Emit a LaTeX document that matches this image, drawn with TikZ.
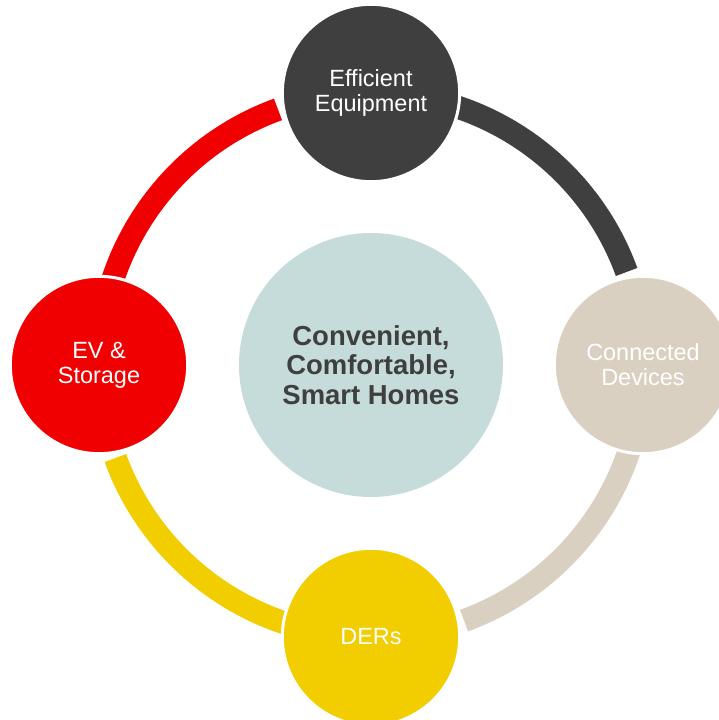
\documentclass[tikz,border=0pt]{standalone}
\usepackage{fontspec}
\setmainfont{Liberation Sans}
\definecolor{equipgrey}{HTML}{3F3F3F}
\definecolor{devbeige}{HTML}{D9D0C1}
\definecolor{deryellow}{HTML}{F2CD00}
\definecolor{evred}{HTML}{F00000}
\definecolor{homeblue}{HTML}{C6DCDB}
\tikzset{
  ring/.style={line width=17.25pt},
  bubble/.style={circle, draw=white, line width=2.25pt, minimum size=133pt, inner sep=0pt,
    align=center, text=white, font=\fontsize{17.6}{18.75}\selectfont},
  hub/.style={circle, fill=homeblue, minimum size=198pt, inner sep=0pt, align=center,
    text=equipgrey, font=\bfseries\fontsize{20.6}{22}\selectfont}
}
\begin{document}
\begin{tikzpicture}
        \useasboundingbox (-278.25pt,-266.25pt) rectangle (260.25pt,273.75pt);
        % Define centre
        \coordinate (O) at (0,0);

        % Draw ring segments
        \draw[ring, equipgrey] ([shift={(90:204pt)}]O) arc (90:20:204pt);
        \draw[ring, devbeige] ([shift={(0:204pt)}]O) arc (0:-70:204pt);
        \draw[ring, deryellow] ([shift={(-90:204pt)}]O) arc (-90:-160:204pt);
        \draw[ring, evred] ([shift={(180:204pt)}]O) arc (180:110:204pt);

        % Draw circles
        \node[hub] (homes) at (O) {Convenient,\\Comfortable,\\Smart Homes};
        \node[bubble, fill=equipgrey] (equip) at (90:204pt) {Efficient\\Equipment};
        \node[bubble, fill=devbeige] (devices) at (0:204pt) {Connected\\Devices};
        \node[bubble, fill=deryellow] (ders) at (-90:204pt) {DERs};
        \node[bubble, fill=evred] (evstore) at (180:204pt) {EV \&\\Storage};
    \end{tikzpicture}
\end{document}
